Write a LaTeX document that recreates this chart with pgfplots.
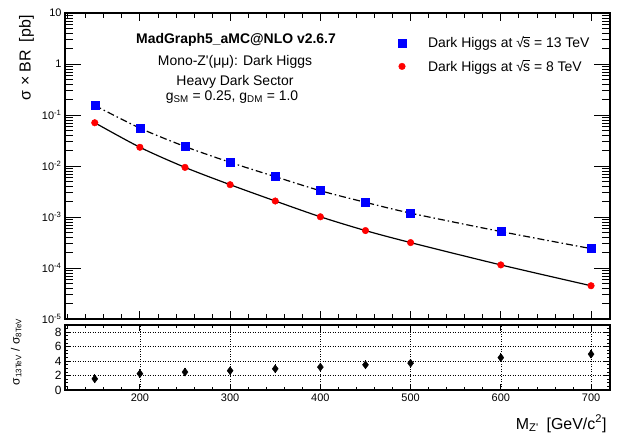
\documentclass[border=0pt]{standalone}
\usepackage{fontspec}
\setmainfont{Liberation Sans}
\usepackage{pgfplots}
\pgfplotsset{compat=1.18}
\newcommand\sqrts{√\kern-0.06em\rlap{\rule[0.72em]{0.5em}{0.06em}}s}
\begin{document}
\begin{tikzpicture}
\path[use as bounding box] (0bp,0bp) rectangle (618bp,433bp);
\pgfplotsset{every axis/.append style={scale only axis,
  font=\fontsize{11}{13}\selectfont,
  tick style={black, line width=0.8bp},
  axis line style={line width=1.2bp},
  /pgf/number format/assume math mode=true}}

% ---- top panel: data and y ticks
\begin{axis}[at={(65bp,114bp)}, anchor=south west, width=545bp, height=306bp,
  xmin=117, xmax=721, ymode=log, log basis y=10, ymin=1e-5, ymax=10,
  xtick=\empty, ytick pos=both, yticklabel pos=left,
  major tick length=16bp, minor tick length=8bp,
  yticklabel={\pgfmathtruncatemacro{\myexp}{round(\tick)}\ifnum\myexp=0 1\else\ifnum\myexp=1 10\else 10\textsuperscript{\myexp}\fi\fi},
  legend style={at={(0.607,0.93)}, anchor=north west, draw=none, fill=none,
    font=\fontsize{14}{16}\selectfont, row sep=7bp, inner sep=0pt},
  legend cell align=left]
\addplot[smooth, black, line width=1.2bp, dash pattern=on 7bp off 3bp on 1.5bp off 3bp, forget plot] coordinates {
(150,0.154) (200,0.0553) (250,0.0241) (300,0.0118) (350,0.00618) (400,0.00328) (450,0.00194) (500,0.00119) (600,0.000519) (700,0.00024)};
\addplot[smooth, black, line width=1.2bp, forget plot] coordinates {
(150,0.0705) (200,0.0233) (250,0.0094) (300,0.0043) (350,0.00206) (400,0.00101) (450,0.000542) (500,0.000315) (600,0.000115) (700,4.49e-5)};
\addplot[only marks, mark=square*, mark size=4bp, blue, mark options={draw=blue, fill=blue},
  legend image code/.code={\path[draw=none, fill=none] (0bp,-4bp) rectangle (30bp,4bp); \path[draw=blue, fill=blue] plot[mark=square*, mark size=4bp, only marks] coordinates {(6bp,0bp)};}] coordinates {
(150,0.154) (200,0.0553) (250,0.0241) (300,0.0118) (350,0.00618) (400,0.00328) (450,0.00194) (500,0.00119) (600,0.000519) (700,0.00024)};
\addlegendentry{Dark Higgs at \sqrts\ = 13 TeV}
\addplot[only marks, mark=*, mark size=3.3bp, red, mark options={draw=red, fill=red},
  legend image code/.code={\path[draw=none, fill=none] (0bp,-4bp) rectangle (30bp,4bp); \path[draw=red, fill=red] plot[mark=*, mark size=3.3bp, only marks] coordinates {(6bp,0bp)};}] coordinates {
(150,0.0705) (200,0.0233) (250,0.0094) (300,0.0043) (350,0.00206) (400,0.00101) (450,0.000542) (500,0.000315) (600,0.000115) (700,4.49e-5)};
\addlegendentry{Dark Higgs at \sqrts\ = 8 TeV}
\end{axis}

% ---- top panel: x ticks
\begin{axis}[at={(65bp,114bp)}, anchor=south west, width=545bp, height=306bp,
  xmin=117, xmax=721, ymin=0, ymax=1,
  xtick={200,300,...,700}, minor xtick={120,140,...,720}, xticklabels={},
  ytick=\empty, xtick pos=both,
  major tick length=8bp, minor tick length=5bp]
\end{axis}

% ---- ratio panel
\begin{axis}[at={(65bp,43bp)}, anchor=south west, width=545bp, height=65bp,
  xmin=117, xmax=721, ymin=0, ymax=9,
  xtick={200,300,...,700}, minor xtick={120,140,...,720},
  ytick={0,2,...,8}, minor ytick={0,0.5,...,9},
  xtick pos=both, ytick pos=both, xticklabel pos=lower, yticklabel pos=left,
  major tick length=6bp, minor tick length=3bp,
  grid=major, major grid style={black, line width=0.6bp, dash pattern=on 1bp off 1.5bp},
  yticklabel style={font=\fontsize{12}{14}\selectfont}]
\addplot[only marks, mark=diamond*, mark size=4bp, black,
  error bars/.cd, y dir=both, y explicit, error mark=none,
  error bar style={line width=1.2bp}] coordinates {
(150,1.55) +- (0,0.6) (200,2.26) +- (0,0.6) (250,2.49) +- (0,0.6) (300,2.67) +- (0,0.6) (350,2.94) +- (0,0.6)
(400,3.17) +- (0,0.6) (450,3.49) +- (0,0.6) (500,3.71) +- (0,0.6) (600,4.48) +- (0,0.6) (700,4.97) +- (0,0.6)};
\end{axis}

% ---- texts
\node[font=\bfseries\fontsize{14}{16}\selectfont] at (236bp,393bp) {MadGraph5\_aMC@NLO v2.6.7};
\node[font=\fontsize{14}{16}\selectfont] at (235bp,371bp) {Mono-Z\textquotesingle(μμ): Dark Higgs};
\node[font=\fontsize{14}{16}\selectfont] at (235bp,351bp) {Heavy Dark Sector};
\node[font=\fontsize{14}{16}\selectfont] at (232bp,336bp) {g\textsubscript{SM} = 0.25, g\textsubscript{DM} = 1.0};
\node[anchor=base east, font=\fontsize{16}{18}\selectfont] at (610bp,4bp) {M\textsubscript{Z\textquotesingle}\hspace{0.5em}[GeV/c\textsuperscript{2}]};
\node[rotate=90, anchor=base east, font=\fontsize{16}{18}\selectfont] at (30.5bp,421bp) {σ × BR\hspace{0.5em}[pb]};
\node[rotate=90, anchor=base, font=\fontsize{12}{14}\selectfont] at (19.5bp,81bp) {σ\textsubscript{13TeV} / σ\textsubscript{8TeV}};
\end{tikzpicture}
\end{document}
